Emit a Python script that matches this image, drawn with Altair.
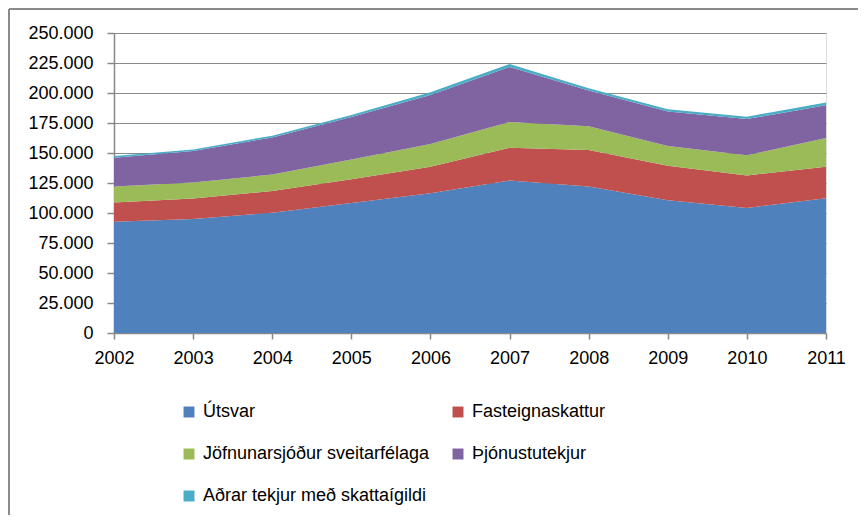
import altair as alt
import pandas as pd

years = [2002, 2003, 2004, 2005, 2006, 2007, 2008, 2009, 2010, 2011]
series = ["Útsvar", "Fasteignaskattur", "Jöfnunarsjóður sveitarfélaga",
          "Þjónustutekjur", "Aðrar tekjur með skattaígildi"]
colors = ["#4F81BD", "#C0504D", "#9BBB59", "#8064A2", "#4BACC6"]

utsvar = [92800, 95000, 100300, 108400, 116500, 127100, 122100, 110600, 104200, 112300]
fasteign = [15900, 17000, 18100, 19800, 22000, 27200, 30300, 28700, 27100, 26200]
jofnun = [13400, 13400, 13700, 16400, 18900, 21500, 19800, 16500, 16900, 24000]
thjonusta = [23900, 26200, 30900, 35400, 41000, 45800, 29800, 28700, 30100, 27300]
adrar = [1400, 1400, 1400, 1700, 2300, 2500, 2000, 2000, 2000, 2200]

values = [utsvar, fasteign, jofnun, thjonusta, adrar]
rows = []
for i, (name, vals) in enumerate(zip(series, values)):
    for y, v in zip(years, vals):
        rows.append({"year": y, "series": name, "value": v, "ord": i})
df = pd.DataFrame(rows)

# legend fills column by column: reorder so rows read left-to-right
legend_idx = [0, 2, 4, 1, 3]
legend_domain = [series[i] for i in legend_idx]
legend_colors = [colors[i] for i in legend_idx]

FONT = "Liberation Sans"
FS = 18
W, H = 712, 300
PL, PT, PR, PB = 106, 25, 32, 182

area = alt.Chart(df).mark_area(strokeWidth=0).encode(
    x=alt.X("year:Q", scale=alt.Scale(domain=[2002, 2011], nice=False, zero=False),
            axis=alt.Axis(values=years, format="d", title=None, grid=False,
                          labelFlush=False, labelOverlap=False,
                          domainColor="#888888", domainWidth=1.5,
                          tickColor="#888888", tickSize=6, tickWidth=1.5,
                          labelFont=FONT, labelFontSize=FS, labelColor="#000000",
                          labelPadding=10)),
    y=alt.Y("value:Q", stack="zero",
            scale=alt.Scale(domain=[0, 250000], nice=False),
            axis=alt.Axis(values=list(range(0, 250001, 25000)), title=None,
                          labelExpr="replace(format(datum.value, ','), ',', '.')",
                          grid=True, gridColor="#8a8a8a", gridWidth=1,
                          domainColor="#888888", domainWidth=1.5,
                          tickColor="#888888", tickSize=7, tickWidth=1.5,
                          labelFont=FONT, labelFontSize=FS, labelColor="#000000",
                          labelPadding=14)),
    color=alt.Color("series:N", scale=alt.Scale(domain=legend_domain, range=legend_colors),
                    legend=alt.Legend(title=None, orient="none", legendX=66, legendY=370,
                                      columns=2, columnPadding=19, rowPadding=24,
                                      symbolType="square", symbolSize=120,
                                      symbolStrokeWidth=0, labelFont=FONT,
                                      labelFontSize=FS, labelColor="#000000",
                                      labelLimit=400, labelOffset=5)),
    order=alt.Order("ord:Q", sort="ascending"),
)

border = alt.Chart(pd.DataFrame({"a": [0]})).mark_rule(color="#8a8a8a", strokeWidth=2).encode(
    x=alt.value(-PL + 1), x2=alt.value(W + PR), y=alt.value(-PT + 1), y2=alt.value(-PT + 1)
)
border_left = alt.Chart(pd.DataFrame({"a": [0]})).mark_rule(color="#8a8a8a", strokeWidth=2).encode(
    x=alt.value(-PL + 1), x2=alt.value(-PL + 1), y=alt.value(-PT + 1), y2=alt.value(H + PB)
)

chart = alt.layer(area, border, border_left).properties(
    width=W, height=H,
    autosize=alt.AutoSizeParams(type="none"),
    padding={"left": PL, "top": PT, "right": PR, "bottom": PB},
).configure_view(stroke=None).configure(background="white")

chart.save("out.html", embed_options={"renderer": "svg", "actions": False})
